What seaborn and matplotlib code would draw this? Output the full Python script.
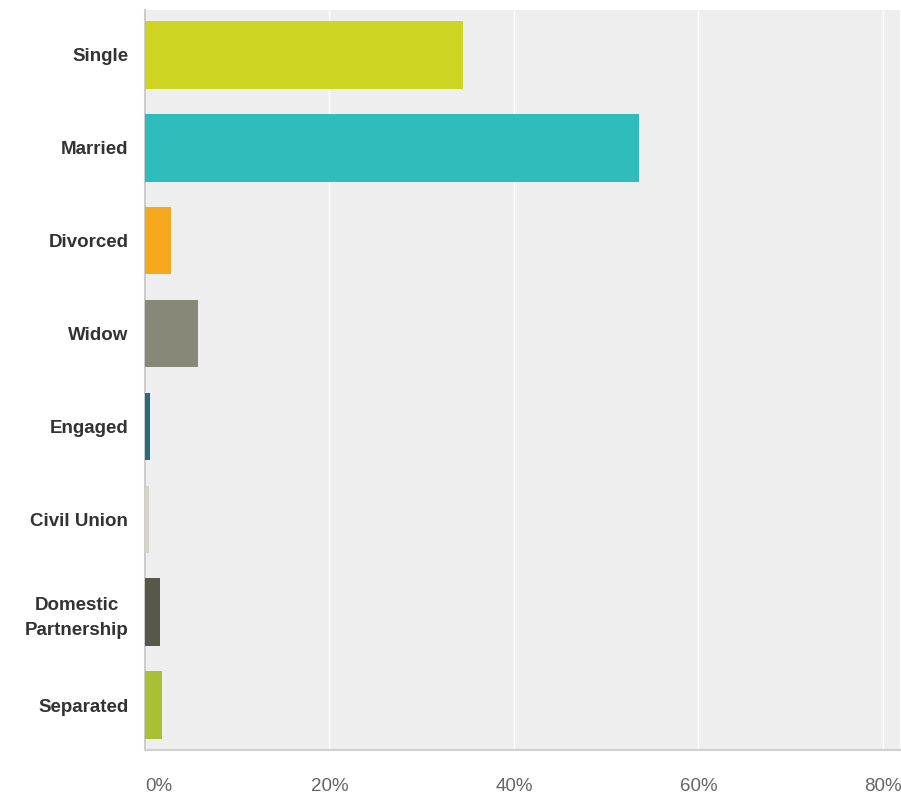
import matplotlib
matplotlib.use("Agg")
import matplotlib.pyplot as plt
import seaborn as sns
import pandas as pd

categories = ["Single", "Married", "Divorced", "Widow", "Engaged",
              "Civil Union", "Domestic\nPartnership", "Separated"]
percent = [34.5, 53.6, 2.8, 5.7, 0.5, 0.4, 1.6, 1.8]
colors = ["#CDD422", "#30BBBC", "#F5A81C", "#888878", "#2A6A7F",
          "#D6D4C4", "#57574A", "#A8BF36"]
tick_values = [0, 20, 40, 60, 80]
tick_labels = ["0%", "20%", "40%", "60%", "80%"]

df = pd.DataFrame({"status": categories, "percent": percent})

sns.set_style("white")
plt.rcParams["font.family"] = ["Liberation Sans", "DejaVu Sans"]

fig = plt.figure(figsize=(9.01, 7.96), dpi=100)
ax = fig.add_axes([145 / 901, 1 - 750 / 796, 755 / 901, 740 / 796])
ax.set_facecolor("#EEEEEE")

sns.barplot(data=df, x="percent", y="status", hue="status", palette=colors,
            legend=False, width=0.73, saturation=1, linewidth=0,
            ax=ax, zorder=3)

ax.set_xlim(0, 81.85)
ax.set_ylim(7.48, -0.48)
ax.set_xticks(tick_values)
ax.set_xticklabels(tick_labels, color="#666666", fontsize=13.5)
ax.xaxis.grid(True, color="white", linewidth=1.0, zorder=1)
ax.set_axisbelow(True)
ax.tick_params(axis="x", length=0, pad=20)
ax.tick_params(axis="y", length=0, pad=12)
for lbl in ax.get_yticklabels():
    lbl.set_fontweight("bold")
    lbl.set_fontsize(13.5)
    lbl.set_color("#333333")
    lbl.set_horizontalalignment("right")
    lbl.set_multialignment("center")
    lbl.set_linespacing(1.55)
ax.get_xticklabels()[0].set_horizontalalignment("left")
ax.set_xlabel("")
ax.set_ylabel("")

for side in ["top", "right"]:
    ax.spines[side].set_visible(False)
ax.spines["left"].set_color("#CCCCCC")
ax.spines["left"].set_linewidth(1.5)
ax.spines["bottom"].set_color("#D0D0D0")
ax.spines["bottom"].set_linewidth(1.5)

fig.savefig("out.png", dpi=100, facecolor="white")
